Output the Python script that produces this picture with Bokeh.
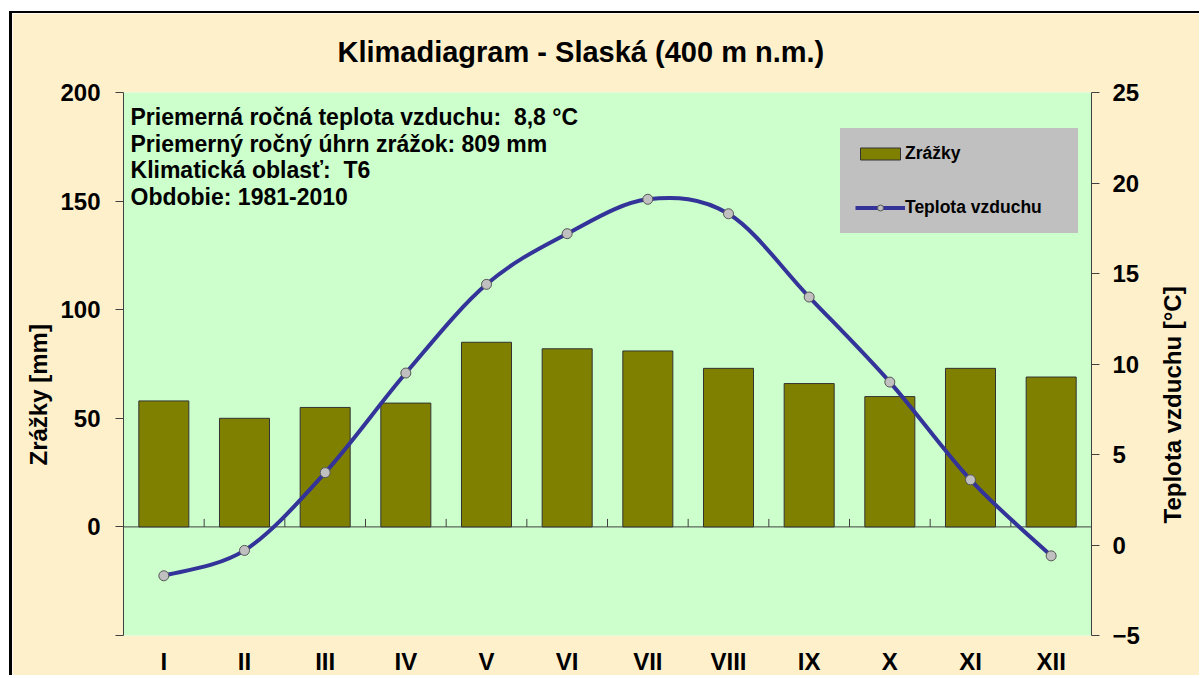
import numpy as np
from bokeh.plotting import figure
from bokeh.models import (Range1d, LinearAxis, FixedTicker, Span, Label, Title,
                          Legend, LegendItem, ColumnDataSource)
from bokeh.embed import file_html
from bokeh.resources import INLINE

# ---------------- data ----------------
months = ["I", "II", "III", "IV", "V", "VI", "VII", "VIII", "IX", "X", "XI", "XII"]
precip = [58, 50, 55, 57, 85, 82, 81, 73, 66, 60, 73, 69]          # mm
temp = [-1.7, -0.3, 4.0, 9.5, 14.4, 17.2, 19.1, 18.3, 13.7, 9.0, 3.6, -0.6]  # degC
precip_ticks = [-50, 0, 50, 100, 150, 200]
temp_ticks = [-5, 0, 5, 10, 15, 20, 25]
title_text = "Klimadiagram - Slaská (400 m n.m.)"
info_lines = ["Priemerná ročná teplota vzduchu:\u00a0 8,8 °C",
              "Priemerný ročný úhrn zrážok: 809 mm",
              "Klimatická oblasť:\u00a0 T6",
              "Obdobie: 1981-2010"]
left_title = "Zrážky [mm]"
right_title = "Teplota vzduchu [°C]"
legend_labels = ["Zrážky", "Teplota vzduchu"]

FONT = "Liberation Sans"
BEIGE = "#FFF0CC"
GREEN = "#CCFFCC"
AXIS = "#404040"
RIGHT_TITLE_AT = 1.19   # where (on the temperature scale) the right title starts

x = np.arange(1, len(months) + 1, dtype=float)
src = ColumnDataSource(dict(x=x, precip=precip, temp=temp, month=months))

p = figure(width=1190, height=664, x_range=Range1d(0.5, 12.5), y_range=Range1d(-50, 200),
           output_backend="svg", toolbar_location=None,
           min_border_left=111, min_border_right=110, min_border_top=79, min_border_bottom=42)
p.styles = {"border-top": "2px solid black", "border-left": "3px solid black",
            "margin-top": "11px", "margin-left": "9px"}
p.extra_y_ranges = {"temp": Range1d(-5, 25)}
p.border_fill_color = BEIGE
p.background_fill_color = GREEN
p.outline_line_color = None
p.xgrid.visible = False
p.ygrid.visible = False

# title
p.title.text = title_text
p.title.align = "left"
p.title.offset = 214
p.title.standoff = 45
p.title.vertical_align = "top"
p.title.text_font = FONT
p.title.text_font_style = "bold"
p.title.text_font_size = "29px"
p.title.text_color = "black"


def style_axis(ax, standoff):
    ax.axis_line_color = AXIS
    ax.major_tick_line_color = AXIS
    ax.minor_tick_line_color = None
    ax.major_tick_out = 8
    ax.major_tick_in = 0
    ax.major_label_standoff = standoff
    ax.major_label_text_font = FONT
    ax.major_label_text_font_style = "bold"
    ax.major_label_text_font_size = "24px"
    ax.major_label_text_color = "black"


# bottom axis (month labels)
xa = p.xaxis[0]
xa.ticker = FixedTicker(ticks=list(x))
xa.major_label_overrides = {float(i + 1): m for i, m in enumerate(months)}
xa.axis_line_color = None
xa.major_tick_line_color = None
xa.minor_tick_line_color = None
xa.major_tick_out = 0
xa.major_tick_in = 0
xa.major_label_standoff = 12
xa.major_label_text_font = FONT
xa.major_label_text_font_style = "bold"
xa.major_label_text_font_size = "24px"
xa.major_label_text_color = "black"

# left axis
ya = p.yaxis[0]
ya.ticker = FixedTicker(ticks=precip_ticks)
ya.major_label_overrides = {-50: ""}
style_axis(ya, 15)

# right axis
ra = LinearAxis(y_range_name="temp", ticker=FixedTicker(ticks=temp_ticks))
style_axis(ra, 13)
p.add_layout(ra, "right")

# right axis title: a label-only axis, so the title can sit below centre and read upwards
rt = LinearAxis(y_range_name="temp", ticker=FixedTicker(ticks=[RIGHT_TITLE_AT]))
rt.major_label_overrides = {RIGHT_TITLE_AT: right_title}
rt.major_label_orientation = np.pi / 2
rt.axis_line_color = None
rt.major_tick_line_color = None
rt.minor_tick_line_color = None
rt.major_tick_out = 0
rt.major_tick_in = 0
rt.major_label_standoff = 30
rt.major_label_text_font = FONT
rt.major_label_text_font_style = "bold"
rt.major_label_text_font_size = "24px"
rt.major_label_text_color = "black"
p.add_layout(rt, "right")

# left axis title, slightly below the frame centre as in the original
p.add_layout(Title(text=left_title, align="left", offset=170, standoff=11,
                   text_font=FONT, text_font_style="bold", text_font_size="24px",
                   text_color="black"), "left")

# zero line with category tick marks
p.add_layout(Span(location=0, dimension="width", line_color=AXIS, line_width=1, level="underlay"))
bounds = x[:-1] + 0.5
p.segment(x0=bounds, y0=0, x1=bounds, y1=3.7, line_color=AXIS, line_width=1)

# bars
r_bar = p.vbar(x="x", top="precip", bottom=0, width=0.62, source=src,
               fill_color="#808000", line_color="#333333", line_width=1)

# smoothed temperature curve (Catmull-Rom -> cubic Bezier segments)
ty = np.array(temp, dtype=float)
n = len(x)
xp = np.concatenate([[x[0]], x, [x[-1]]])
yp = np.concatenate([[ty[0]], ty, [ty[-1]]])
i = np.arange(n - 1)
bx0, by0 = x[i], ty[i]
bx1, by1 = x[i + 1], ty[i + 1]
cx0 = x[i] + (xp[i + 2] - xp[i]) / 6.0
cy0 = ty[i] + (yp[i + 2] - yp[i]) / 6.0
cx1 = x[i + 1] - (xp[i + 3] - xp[i + 1]) / 6.0
cy1 = ty[i + 1] - (yp[i + 3] - yp[i + 1]) / 6.0
r_line = p.bezier(x0=bx0, y0=by0, x1=bx1, y1=by1, cx0=cx0, cy0=cy0, cx1=cx1, cy1=cy1,
                  line_color="#333399", line_width=4, y_range_name="temp")
r_pts = p.scatter(x="x", y="temp", source=src, size=10, fill_color="#C0C0C0",
                  line_color="#555555", line_width=1, y_range_name="temp")

# legend
legend = Legend(items=[LegendItem(label=legend_labels[0], renderers=[r_bar]),
                       LegendItem(label=legend_labels[1], renderers=[r_line, r_pts])],
                location=(717, 402), orientation="vertical",
                background_fill_color="#C0C0C0", background_fill_alpha=1.0,
                border_line_color="#C0C0C0", border_line_width=1,
                padding=14, spacing=33, margin=0,
                glyph_width=50, glyph_height=15, label_standoff=0, label_width=158,
                label_text_font=FONT, label_text_font_style="bold",
                label_text_font_size="17.5px", label_text_color="black")
p.add_layout(legend)

# info text
info_y = [188.5, 176.5, 164.1, 152.1]
for t, yy in zip(info_lines, info_y):
    p.add_layout(Label(x=0.587, y=yy, text=t, text_font=FONT, text_font_style="bold",
                       text_font_size="23px", text_color="black", text_baseline="middle"))

open("out.html", "w").write(file_html(p, INLINE))
